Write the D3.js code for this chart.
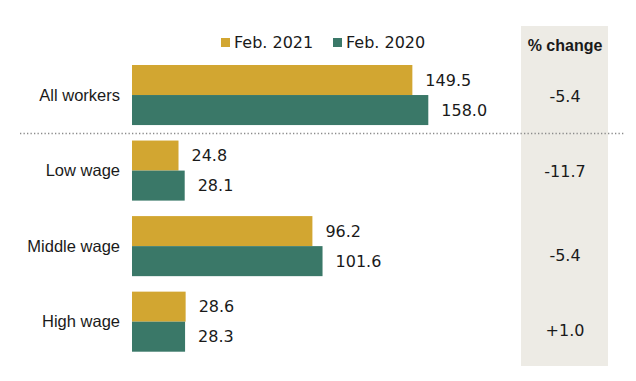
<!DOCTYPE html>
<html>
<head>
<meta charset="utf-8">
<script src="https://cdn.jsdelivr.net/npm/d3@7"></script>
<style>
  body { margin: 0; background: #fff; }
  text { font-family: "Liberation Sans", Arial, sans-serif; fill: #1a1a1a; }
  text.num { font-family: "DejaVu Sans", sans-serif; }
</style>
</head>
<body>
<div id="chart"></div>
<script>
// data
var categories = ["All workers", "Low wage", "Middle wage", "High wage"];
var seriesNames = ["Feb. 2021", "Feb. 2020"];
var feb2021 = [149.5, 24.8, 96.2, 28.6];
var feb2020 = [158.0, 28.1, 101.6, 28.3];
var pctChange = ["-5.4", "-11.7", "-5.4", "+1.0"];

var colors = { "Feb. 2021": "#D2A631", "Feb. 2020": "#3A7868" };

var W = 636, H = 381;
var svg = d3.select("#chart").append("svg")
  .attr("width", W)
  .attr("height", H);

var rows = categories.map(function(c, i) {
  return { cat: c, vals: [
    { s: "Feb. 2021", v: feb2021[i] },
    { s: "Feb. 2020", v: feb2020[i] }
  ], pct: pctChange[i] };
});

var x = d3.scaleLinear().domain([0, 158]).range([132, 428.3]);
var y = d3.scaleBand().domain(categories).range([65, 351.7]).paddingInner(0.205).paddingOuter(0);
var ys = d3.scaleBand().domain(seriesNames).range([0, y.bandwidth()]);

// % change column
svg.append("rect")
  .attr("x", 521).attr("y", 26)
  .attr("width", 87).attr("height", 340)
  .attr("fill", "#EDEBE5");

svg.append("text")
  .attr("x", 565).attr("y", 51)
  .attr("text-anchor", "middle")
  .style("font-weight", "bold")
  .style("font-size", "16px")
  .text("% change");

// legend
var leg = svg.append("g").selectAll("g")
  .data(seriesNames)
  .enter().append("g")
  .attr("transform", function(d, i) { return "translate(" + [221, 333][i] + ",38)"; });
leg.append("rect")
  .attr("width", 9).attr("height", 9)
  .attr("fill", function(d) { return colors[d]; });
leg.append("text")
  .attr("class", "num")
  .attr("x", 13).attr("y", 9.5)
  .style("font-size", "16px")
  .text(function(d) { return d; });

// separator below "All workers"
svg.append("line")
  .attr("x1", 20).attr("x2", 624)
  .attr("y1", 133.5).attr("y2", 133.5)
  .attr("stroke", "#8a8a8a")
  .attr("stroke-width", 1.3)
  .attr("stroke-dasharray", "1.3,2.2");

var g = svg.append("g").selectAll("g")
  .data(rows)
  .enter().append("g")
  .attr("transform", function(d) { return "translate(0," + y(d.cat) + ")"; });

g.append("text")
  .attr("x", 120)
  .attr("y", y.bandwidth() / 2)
  .attr("dy", "0.35em")
  .attr("text-anchor", "end")
  .style("font-size", "16.5px")
  .text(function(d) { return d.cat; });

g.selectAll("rect")
  .data(function(d) { return d.vals; })
  .enter().append("rect")
  .attr("x", x(0))
  .attr("y", function(d) { return ys(d.s); })
  .attr("width", function(d) { return x(d.v) - x(0); })
  .attr("height", ys.bandwidth())
  .attr("fill", function(d) { return colors[d.s]; });

g.selectAll("text.val")
  .data(function(d) { return d.vals; })
  .enter().append("text")
  .attr("class", "val num")
  .attr("x", function(d) { return x(d.v) + 13; })
  .attr("y", function(d) { return ys(d.s) + ys.bandwidth() / 2; })
  .attr("dy", "0.36em")
  .style("font-size", "16px")
  .text(function(d) { return d.v.toFixed(1); });

g.append("text")
  .attr("class", "num")
  .attr("x", 565)
  .attr("y", function(d, i) { return y.bandwidth() / 2 + (i > 1 ? 9 : 1); })
  .attr("dy", "0.36em")
  .attr("text-anchor", "middle")
  .style("font-size", "16px")
  .text(function(d) { return d.pct; });
</script>
</body>
</html>
